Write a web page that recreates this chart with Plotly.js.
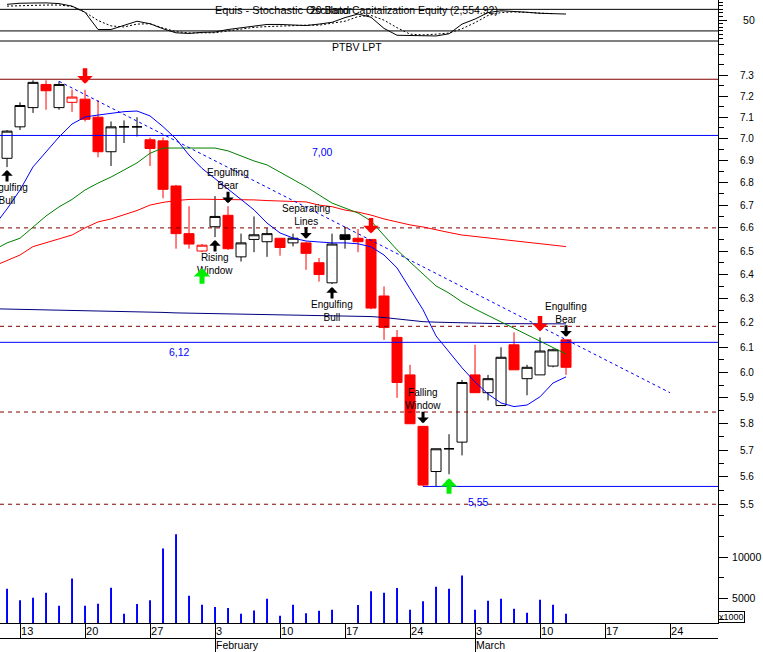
<!DOCTYPE html>
<html>
<head>
<meta charset="utf-8">
<script src="https://cdn.plot.ly/plotly-3.0.1.min.js"></script>
<style>
html,body{margin:0;padding:0;background:#ffffff;}
#chart{width:763px;height:652px;}
</style>
</head>
<body>
<div id="chart"></div>
<script>
// ================= DATA =================
const dates = ['2003-01-10',
  '2003-01-13','2003-01-14','2003-01-15','2003-01-16','2003-01-17',
  '2003-01-20','2003-01-21','2003-01-22','2003-01-23','2003-01-24',
  '2003-01-27','2003-01-28','2003-01-29','2003-01-30','2003-01-31',
  '2003-02-03','2003-02-04','2003-02-05','2003-02-06','2003-02-07',
  '2003-02-10','2003-02-11','2003-02-12','2003-02-13','2003-02-14',
  '2003-02-17','2003-02-18','2003-02-19','2003-02-20','2003-02-21',
  '2003-02-24','2003-02-25','2003-02-26','2003-02-27','2003-02-28',
  '2003-03-03','2003-03-04','2003-03-05','2003-03-06','2003-03-07',
  '2003-03-10','2003-03-11','2003-03-12'];

const open  = [6.91,7.055,7.145,7.255,7.145,7.17,7.185,7.10,6.94,7.055,7.055,6.995,6.99,6.785,6.575,6.50,6.605,6.655,6.475,6.55,6.54,6.555,6.535,6.535,6.45,6.365,6.57,6.555,6.55,6.31,6.14,5.99,5.79,5.62,5.705,5.73,5.99,5.92,5.87,6.11,5.975,5.99,6.025,6.13];
const high  = [7.04,7.17,7.275,7.275,7.27,7.23,7.23,7.18,7.08,7.085,7.10,7.005,7.005,6.79,6.695,6.53,6.74,6.695,6.575,6.65,6.60,6.555,6.575,6.54,6.47,6.575,6.605,6.595,6.55,6.35,6.17,6.03,5.79,5.705,5.76,5.97,6.11,5.99,6.10,6.16,6.03,6.14,6.095,6.13];
const low   = [6.87,7.04,7.12,7.135,7.135,7.125,7.08,6.915,6.875,6.98,7.01,6.875,6.73,6.51,6.51,6.495,6.56,6.505,6.455,6.495,6.475,6.48,6.52,6.42,6.37,6.36,6.51,6.495,6.255,6.13,5.90,5.80,5.565,5.565,5.61,5.68,5.92,5.89,5.87,6.01,5.91,5.99,6.02,5.99];
const close = [7.035,7.155,7.265,7.225,7.255,7.195,7.09,6.94,7.055,7.055,7.055,6.955,6.77,6.575,6.53,6.525,6.65,6.51,6.535,6.57,6.575,6.515,6.555,6.49,6.40,6.53,6.55,6.54,6.26,6.18,5.96,5.80,5.57,5.705,5.705,5.96,5.92,5.975,6.06,6.01,6.02,6.085,6.09,6.02];
const volume = [6210,4800,5120,5730,4150,7420,4150,4400,6330,3180,4350,4800,11050,12750,5360,4270,3990,3870,3180,3590,5000,2940,4270,3260,3550,3670,0,4230,5890,5730,6290,3670,4680,6450,6210,7780,3670,4760,5000,3790,3310,4880,4270,3180];

const stochK = [94,97,97.6,98,96,89,72,24,24,36,47,40,26,14.7,13,16,17,24,29,33,38,38,37,35,39,44,57,67,58,27,8,8,7,6,12,39,53,71,76,75,72,69,68,67];
const stochD = [89,90.6,92,92,92,88,72,49,34,31,39,40,28,18,14.5,14.5,15,20,25,30,32,34,35,36,36,42,47,60,63,50,29,11,9,11,14,26,43,63,71,73,72,69,68];
const stochBands = [80, 20];

// moving averages: first value belongs to the session before the first candle
const maFast = [6.608,6.683,6.767,6.871,6.939,7.008,7.068,7.101,7.110,7.117,7.126,7.129,7.106,7.056,6.999,6.925,6.864,6.818,6.772,6.727,6.679,6.621,6.578,6.556,6.543,6.539,6.535,6.535,6.531,6.518,6.483,6.428,6.340,6.253,6.146,6.081,6.018,5.962,5.915,5.880,5.866,5.872,5.904,5.958,5.982];
const maMid  = [6.505,6.535,6.555,6.605,6.652,6.692,6.725,6.767,6.798,6.825,6.857,6.889,6.933,6.957,6.957,6.957,6.957,6.957,6.944,6.921,6.898,6.880,6.848,6.816,6.782,6.745,6.709,6.687,6.665,6.630,6.569,6.505,6.453,6.402,6.352,6.322,6.285,6.256,6.228,6.203,6.177,6.150,6.124,6.097,6.073];
const maSlow = [6.436,6.459,6.483,6.519,6.535,6.552,6.569,6.600,6.626,6.639,6.659,6.676,6.700,6.712,6.720,6.725,6.726,6.726,6.726,6.725,6.723,6.720,6.718,6.716,6.714,6.700,6.693,6.678,6.669,6.656,6.639,6.626,6.613,6.604,6.591,6.580,6.569,6.563,6.556,6.550,6.543,6.537,6.533,6.526,6.519];
const maLong = [6.257,6.256,6.255,6.253,6.252,6.251,6.250,6.249,6.248,6.247,6.245,6.244,6.243,6.242,6.240,6.240,6.238,6.237,6.236,6.235,6.233,6.233,6.231,6.230,6.229,6.228,6.228,6.227,6.226,6.225,6.221,6.215,6.209,6.204,6.202,6.200,6.199,6.198,6.197,6.196,6.196,6.195,6.195,6.195,6.195];

const trendIdx = [4, 51];
const trendVal = [7.27, 5.92];

const resistanceLevels = [7.28];
const blueLevels = [7.015, 6.12];
const blueLevelLabels = ['7,00', '6,12'];
const dashedLevels = [6.60, 6.185, 5.845, 5.50];
const supportLevel = 5.565;
const supportStartIdx = 32;
const supportLabel = '5,55';

const weekTickIdx  = [1, 6, 11, 16, 21, 26, 31, 36, 41, 46, 51];
const weekTickText = ['13','20','27','3','10','17','24','3','10','17','24'];
const monthTickIdx  = [16, 36];
const monthTickText = ['February', 'March'];

const priceTicks    = [5.5,5.6,5.7,5.8,5.9,6.0,6.1,6.2,6.3,6.4,6.5,6.6,6.7,6.8,6.9,7.0,7.1,7.2,7.3];
const priceTickText = ['5.5','5.6','5.7','5.8','5.9','6.0','6.1','6.2','6.3','6.4','6.5','6.6','6.7','6.8','6.9','7.0','7.1','7.2','7.3'];
const priceMinorTicks = [5.55,5.65,5.75,5.85,5.95,6.05,6.15,6.25,6.35,6.45,6.55,6.65,6.75,6.85,6.95,7.05,7.15,7.25,7.35,7.4,7.45];
const volTicks = [5000, 10000];
const volTickText = ['5000', '10000'];
const volMinorTicks = [2500, 7500, 12500, 15000];
const stochTicks = [50];
const stochTickText = ['50'];
const stochMinorTicks = [0,10,20,30,40,60,70,80,90,100];

const patternIdx  = [0, 16, 17, 23, 25, 32, 43];
const patternDir  = ['up','up','down','down','up','down','down'];
const patternText = ['Engulfing<br>Bull','Rising<br>Window','Engulfing<br>Bear','Separating<br>Lines','Engulfing<br>Bull','Falling<br>Window','Engulfing<br>Bear'];
const sellSignalIdx = [6, 28, 41];
const buySignalIdx  = [15, 34];

const chartTitle = 'PTBV LPT';
const stochTitleA = 'Equis - Stochastic Oscillator';
const stochTitleB = '20 Band Capitalization Equity (2,554.92)';

// ================= STYLE / LAYOUT =================
const FONT = 'Liberation Sans, Arial, Helvetica, sans-serif';
const xMin = -0.54, xMax = 54.69;
const plotH = 638;
const dStochBottom = 1 - 41/plotH;
const dPriceBottom = 1 - 515/plotH;
const dVolBottom = 1 - 623/plotH;
const priceRange = [0.73728, 0.87309];
const volRange = [2072, 15084];
const stochRange = [-8, 106];

const idx = open.map((_, i) => i);
const maX = maFast.map((_, i) => i - 1);
const isUp = i => i === 0 || close[i] >= close[i - 1];

const candleGroups = [
  {fill:'#ffffff', line:'#000000', test: i => close[i] > open[i] && isUp(i)},
  {fill:'#ffffff', line:'#ff0000', test: i => close[i] > open[i] && !isUp(i)},
  {fill:'#ff0000', line:'#ff0000', test: i => close[i] <= open[i] && !isUp(i)},
  {fill:'#000000', line:'#000000', test: i => close[i] <= open[i] && isUp(i)}
];

const traces = [];

// volume
traces.push({type:'bar', x: idx, y: volume, xaxis:'x', yaxis:'y3', width:0.15,
  marker:{color:'#0000ff', line:{width:0}}, hoverinfo:'skip'});
// carrier for the month axis
traces.push({type:'scatter', mode:'markers', x: monthTickIdx, y: monthTickIdx.map(() => volRange[0]),
  xaxis:'x2', yaxis:'y3', marker:{opacity:0, size:1}, hoverinfo:'skip'});

// candles
candleGroups.forEach(g => {
  const sel = idx.filter(g.test);
  traces.push({type:'candlestick', xaxis:'x', yaxis:'y2',
    x: sel, open: sel.map(i => open[i]), high: sel.map(i => high[i]),
    low: sel.map(i => low[i]), close: sel.map(i => close[i]),
    whiskerwidth: 0,
    increasing:{line:{color:g.line, width:1}, fillcolor:g.fill},
    decreasing:{line:{color:g.line, width:1}, fillcolor:g.fill},
    hoverinfo:'skip'});
});

function hline(y, x0, color, dash) {
  return {type:'scatter', mode:'lines', xaxis:'x', yaxis:'y2', x:[x0, xMax], y:[y, y],
    line:{color:color, width:1, dash:dash || 'solid'}, hoverinfo:'skip'};
}
resistanceLevels.forEach(v => traces.push(hline(v, xMin, '#800000')));
dashedLevels.forEach(v => traces.push(hline(v, xMin, '#800000', '4px,4px')));
blueLevels.forEach(v => traces.push(hline(v, xMin, '#0000ff')));
traces.push(hline(supportLevel, supportStartIdx, '#0000ff'));

// moving averages
[[maLong,'#000080'],[maSlow,'#ff0000'],[maMid,'#008000'],[maFast,'#0000ff']].forEach(([arr,c]) => {
  traces.push({type:'scatter', mode:'lines', xaxis:'x', yaxis:'y2', x: maX, y: arr,
    line:{color:c, width:1}, hoverinfo:'skip'});
});

// trendline
traces.push({type:'scatter', mode:'lines', xaxis:'x', yaxis:'y2', x: trendIdx, y: trendVal,
  line:{color:'#0000ff', width:1, dash:'3px,3px'}, hoverinfo:'skip'});

// stochastic
stochBands.forEach(v => traces.push({type:'scatter', mode:'lines', xaxis:'x', yaxis:'y',
  x:[xMin, xMax], y:[v, v], line:{color:'#000000', width:1}, hoverinfo:'skip'}));
traces.push({type:'scatter', mode:'lines', xaxis:'x', yaxis:'y', x: idx.slice(0, stochD.length), y: stochD,
  line:{color:'#000000', width:1, dash:'2px,2px'}, hoverinfo:'skip'});
traces.push({type:'scatter', mode:'lines', xaxis:'x', yaxis:'y', x: idx, y: stochK,
  line:{color:'#000000', width:1}, hoverinfo:'skip'});

// annotations
const ann = [];
const L = Math.log10;
function arrow(i, dir, color, gap, len, width, size) {
  const base = dir === 'up' ? low[i] : high[i];
  return {x:i, y:L(base), xref:'x', yref:'y2', text:'', showarrow:true,
    arrowhead:1, arrowsize:size, arrowwidth:width, arrowcolor:color,
    ax:0, ay: dir === 'up' ? gap + len : -(gap + len), axref:'pixel', ayref:'pixel',
    standoff: gap, borderpad:0, font:{size:1}};
}
patternIdx.forEach((i, k) => {
  const dir = patternDir[k];
  ann.push(arrow(i, dir, '#000000', 3, 12, 3, 0.64));
  const base = dir === 'up' ? low[i] : high[i];
  ann.push({x:i, y:L(base), xref:'x', yref:'y2', text:patternText[k], showarrow:false,
    yanchor: dir === 'up' ? 'top' : 'bottom', yshift: dir === 'up' ? -14 : 14,
    font:{family:FONT, size:10, color:'#000000'}, borderpad:0});
});
sellSignalIdx.forEach(i => ann.push(arrow(i, 'down', '#ff0000', 6, 16, 4.5, 0.57)));
const buyGap = {15: 16};
buySignalIdx.forEach(i => ann.push(arrow(i, 'up', '#00ee00', buyGap[i] || 4, 16, 5, 0.55)));

const levelLabelIdx = [24.3, 13.3];
const levelLabelShift = [-17, -10];
blueLevels.forEach((v, k) => ann.push({x:levelLabelIdx[k], y:L(v), xref:'x', yref:'y2',
  text:blueLevelLabels[k], showarrow:false, yshift:levelLabelShift[k],
  font:{family:FONT, size:10.5, color:'#0000ff'}}));
ann.push({x:36.3, y:L(supportLevel), xref:'x', yref:'y2', text:supportLabel, showarrow:false,
  yshift:-16, font:{family:FONT, size:10.5, color:'#0000ff'}});

ann.push({x:357/718, y:1 - 47/plotH, xref:'paper', yref:'paper', text:chartTitle, showarrow:false,
  xanchor:'center', yanchor:'middle', font:{family:FONT, size:10.5, color:'#000000'}});
ann.push({x:213/718, y:1 - 10/plotH, xref:'paper', yref:'paper', text:stochTitleA, showarrow:false,
  xanchor:'left', yanchor:'middle', font:{family:FONT, size:11, color:'#000000'}});
ann.push({x:308/718, y:1 - 10/plotH, xref:'paper', yref:'paper', text:stochTitleB, showarrow:false,
  xanchor:'left', yanchor:'middle', font:{family:FONT, size:10.5, color:'#000000'}});
ann.push({x:1, y:dVolBottom, xref:'paper', yref:'paper', text:'x1000', showarrow:false,
  xanchor:'left', yanchor:'bottom', bordercolor:'#000000', borderwidth:1, borderpad:0,
  font:{family:FONT, size:9, color:'#000000'}});

const axCommon = {showgrid:false, zeroline:false, showline:true, linecolor:'#000000', linewidth:1,
  ticks:'outside', tickcolor:'#000000', tickwidth:1, fixedrange:true};

const layout = {
  width:763, height:652,
  margin:{l:0, r:45, t:0, b:14, pad:0},
  paper_bgcolor:'#ffffff', plot_bgcolor:'#ffffff',
  showlegend:false,
  font:{family:FONT, size:10, color:'#000000'},
  boxgap:0.23, boxgroupgap:0,
  xaxis: Object.assign({}, axCommon, {range:[xMin, xMax], anchor:'y3', domain:[0,1],
    tickmode:'array', tickvals:weekTickIdx, ticktext:weekTickText, ticklen:15, ticklabelstandoff:-2,
    ticklabelposition:'outside right', tickfont:{family:FONT, size:11},
    rangeslider:{visible:false}}),
  xaxis2: Object.assign({}, axCommon, {range:[xMin, xMax], overlaying:'x', anchor:'free', position:0,
    side:'bottom', tickmode:'array', tickvals:monthTickIdx, ticktext:monthTickText, ticklen:14,
    ticklabelstandoff:-3,
    ticklabelposition:'outside right', tickfont:{family:FONT, size:10.5}}),
  yaxis: Object.assign({}, axCommon, {domain:[dStochBottom, 1], range:stochRange, side:'right',
    tickmode:'array', tickvals:stochTicks, ticktext:stochTickText, ticklen:8, ticklabelstandoff:14,
    tickfont:{family:FONT, size:10.5},
    minor:{tickmode:'array', tickvals:stochMinorTicks, ticks:'outside', ticklen:4, tickcolor:'#000000'}}),
  yaxis2: Object.assign({}, axCommon, {domain:[dPriceBottom, dStochBottom], type:'log', range:priceRange,
    side:'right', tickmode:'array', tickvals:priceTicks, ticktext:priceTickText, ticklen:9, ticklabelstandoff:10,
    tickfont:{family:FONT, size:10},
    minor:{tickmode:'array', tickvals:priceMinorTicks, ticks:'outside', ticklen:5, tickcolor:'#000000'}}),
  yaxis3: Object.assign({}, axCommon, {domain:[dVolBottom, dPriceBottom], range:volRange, side:'right',
    tickmode:'array', tickvals:volTicks, ticktext:volTickText, ticklen:9, ticklabelstandoff:2,
    tickfont:{family:FONT, size:10.5},
    minor:{tickmode:'array', tickvals:volMinorTicks, ticks:'outside', ticklen:5, tickcolor:'#000000'}}),
  shapes:[
    {type:'line', xref:'paper', yref:'paper', x0:0, x1:1, y0:dStochBottom, y1:dStochBottom,
     line:{color:'#000000', width:1}}
  ],
  annotations: ann
};

Plotly.newPlot('chart', traces, layout, {staticPlot:true, displayModeBar:false});
</script>
</body>
</html>
